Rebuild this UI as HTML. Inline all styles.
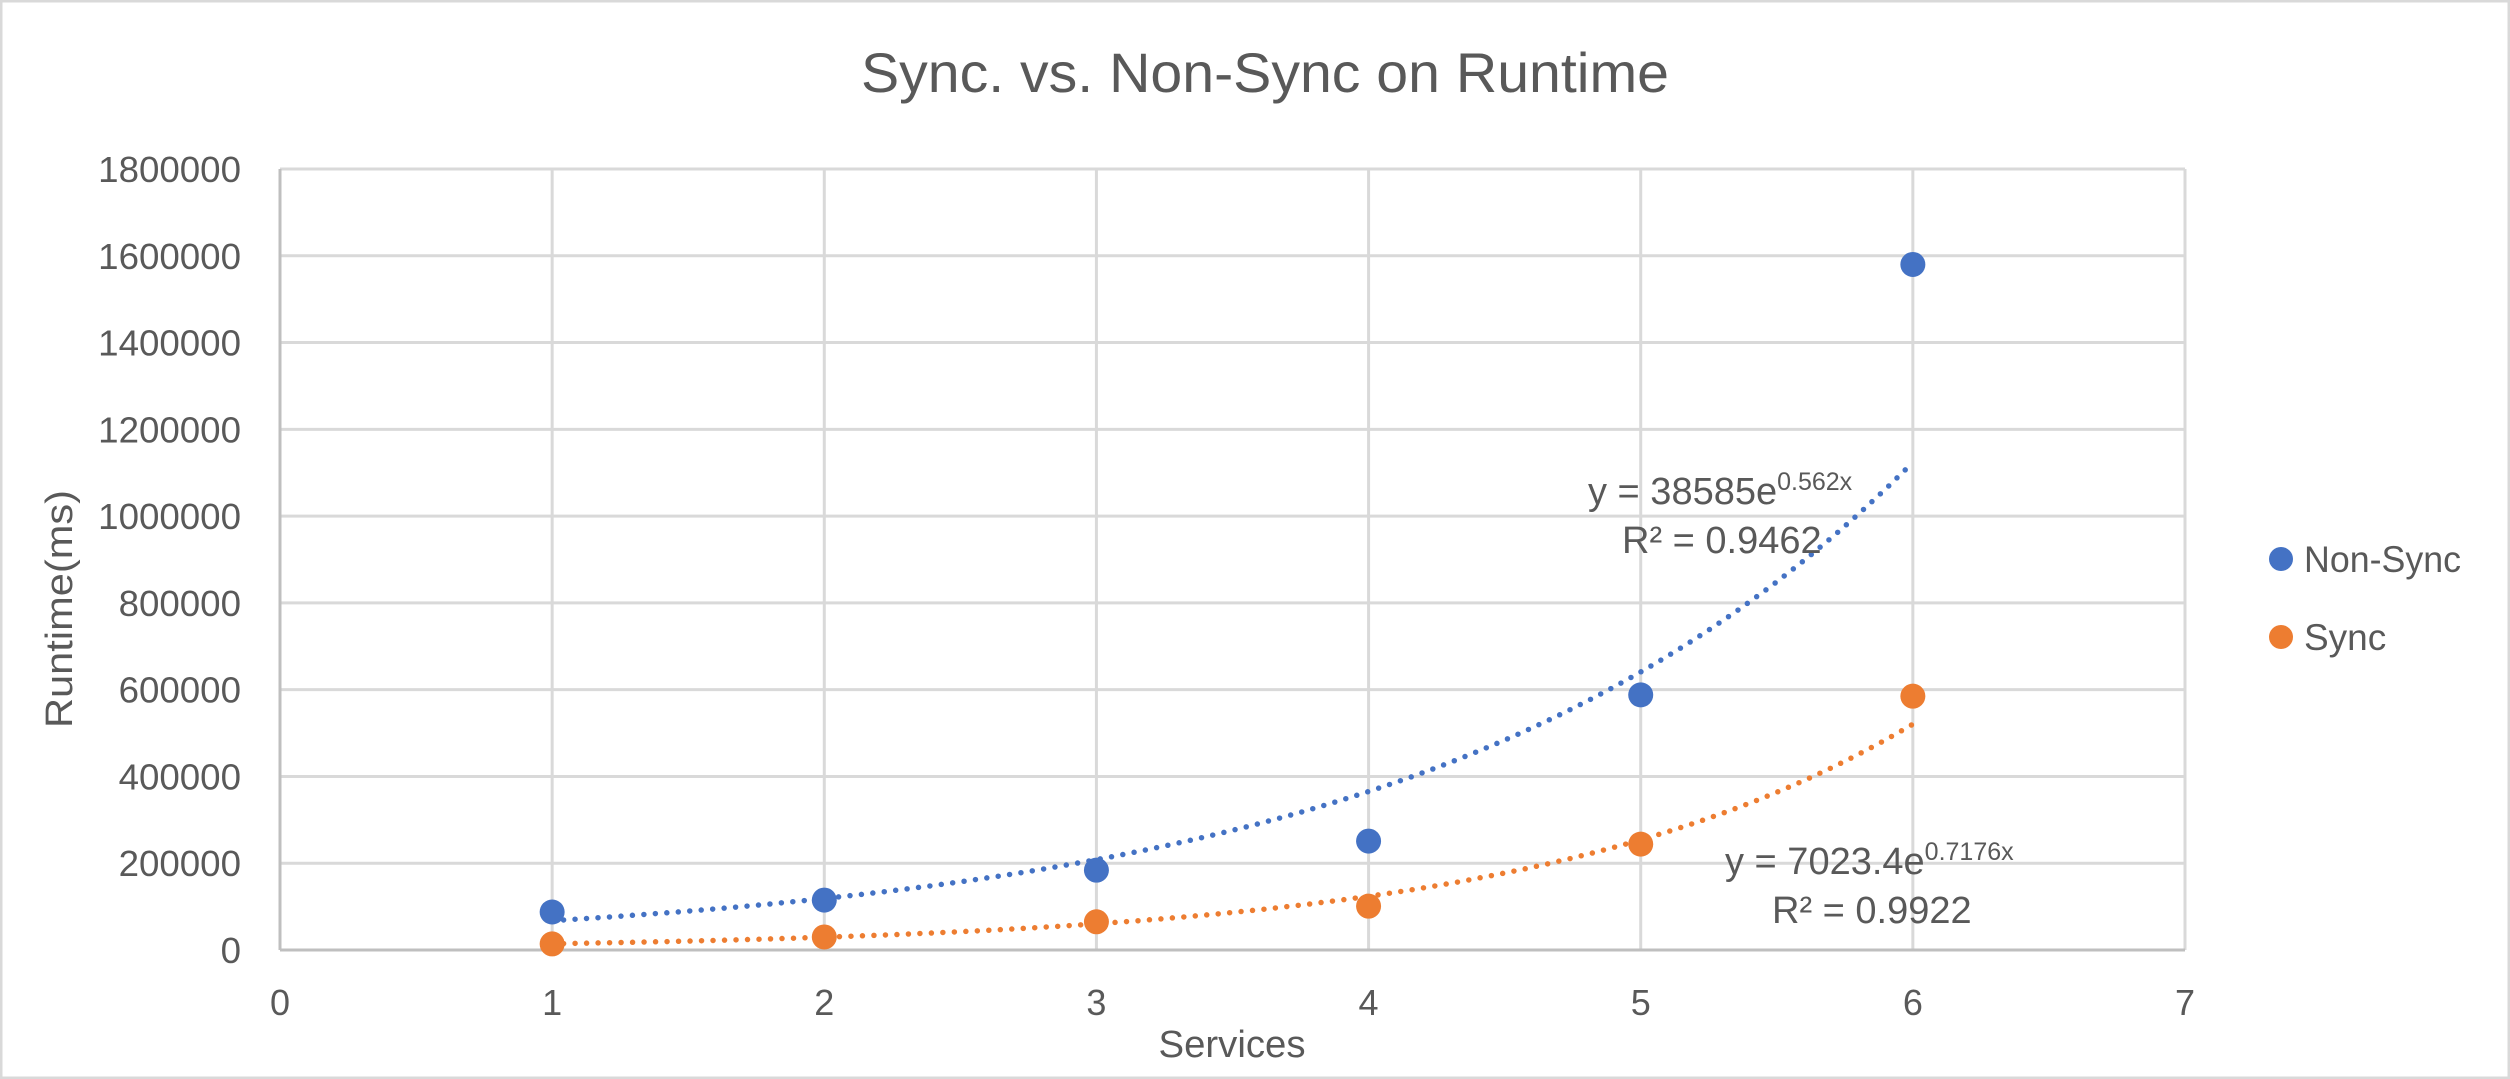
<!DOCTYPE html>
<html><head><meta charset="utf-8"><style>
html,body{margin:0;padding:0;background:#fff}
svg{display:block}
text{font-family:"Liberation Sans",sans-serif;fill:#595959}
</style></head><body>
<svg id="s" width="2510" height="1079" xmlns="http://www.w3.org/2000/svg">
<rect x="1" y="1" width="2508" height="1077" fill="#fff" stroke="#d9d9d9" stroke-width="3"/>
<g id="grid"></g>
<text x="1265" y="92" font-size="56" text-anchor="middle" textLength="808" lengthAdjust="spacingAndGlyphs">Sync. vs. Non-Sync on  Runtime</text>
<text transform="translate(72,609) rotate(-90)" font-size="38" text-anchor="middle" textLength="238" lengthAdjust="spacingAndGlyphs">Runtime(ms)</text>
<text x="1232" y="1057" font-size="38" text-anchor="middle" textLength="147" lengthAdjust="spacingAndGlyphs">Services</text>
<g id="data"></g>
<text x="1588" y="504" font-size="38">y = 38585e<tspan font-size="25" dy="-14">0.562x</tspan></text>
<text x="1622" y="553" font-size="38">R² = 0.9462</text>
<text x="1725" y="874" font-size="38">y = 7023.4e<tspan font-size="25" dy="-14">0.7176x</tspan></text>
<text x="1772" y="923" font-size="38">R² = 0.9922</text>
<circle cx="2281" cy="559" r="12" fill="#4472c4"/>
<text x="2304" y="572" font-size="37" textLength="157" lengthAdjust="spacingAndGlyphs">Non-Sync</text>
<circle cx="2281" cy="637" r="12" fill="#ed7d31"/>
<text x="2304" y="650" font-size="37">Sync</text>
</svg>
<script>
var NS="http://www.w3.org/2000/svg";
function X(v){return 280+v*(2185-280)/7}
function Y(v){return 950-v*(950-169)/1800000}
function el(p,t,a,txt){var e=document.createElementNS(NS,t);for(var k in a)e.setAttribute(k,a[k]);if(txt!=null)e.textContent=txt;p.appendChild(e);return e}
var g=document.getElementById('grid');
for(var i=1;i<=9;i++){el(g,'line',{x1:280,x2:2185,y1:Y(i*200000),y2:Y(i*200000),stroke:'#d9d9d9','stroke-width':3})}
for(var i=1;i<=7;i++){el(g,'line',{x1:X(i),x2:X(i),y1:169,y2:950,stroke:'#d9d9d9','stroke-width':3})}
el(g,'line',{x1:280,x2:280,y1:169,y2:950,stroke:'#bfbfbf','stroke-width':3});
el(g,'line',{x1:280,x2:2185,y1:950,y2:950,stroke:'#bfbfbf','stroke-width':3});
for(var i=0;i<=9;i++){var s=String(i*200000);el(g,'text',{x:241,y:Y(i*200000)+13,'font-size':36,'text-anchor':'end',textLength:(s.length*20.4).toFixed(1),lengthAdjust:'spacingAndGlyphs'},s);}
for(var i=0;i<=7;i++){el(g,'text',{x:X(i),y:1015,'font-size':36,'text-anchor':'middle'},String(i))}
var d=document.getElementById('data');
function trend(a,b,c){var p='';for(var x=1;x<=6.0001;x+=0.01){p+=(p?'L':'M')+X(x).toFixed(1)+' '+Y(a*Math.exp(b*x)).toFixed(1)}
el(d,'path',{d:p,fill:'none',stroke:c,'stroke-width':5.5,'stroke-linecap':'round','stroke-dasharray':'0 11.5'})}
trend(38585,0.562,'#4472c4');trend(7023.4,0.7176,'#ed7d31');
var ns=[87600,115000,184000,251000,588000,1580000],sy=[14000,30000,65000,101000,244000,585000];
for(var i=0;i<6;i++){el(d,'circle',{cx:X(i+1),cy:Y(ns[i]),r:12.5,fill:'#4472c4'});el(d,'circle',{cx:X(i+1),cy:Y(sy[i]),r:12.5,fill:'#ed7d31'})}
</script>
</body></html>
